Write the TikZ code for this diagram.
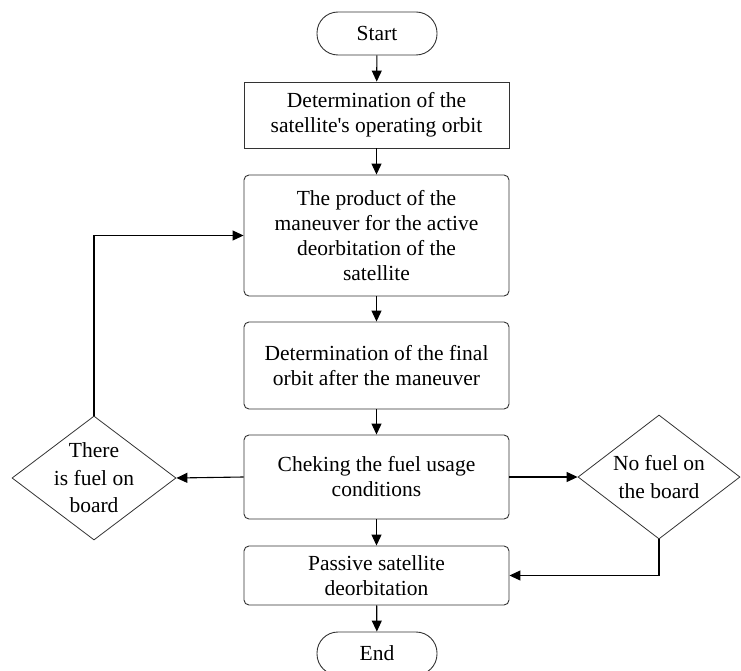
\documentclass[tikz,border=0pt]{standalone}
\usepackage{fontspec}
\setmainfont{Liberation Serif}
\usetikzlibrary{shapes.geometric, arrows.meta}
\tikzset{
  txt/.style={font=\fontsize{21.5}{25}\selectfont, align=center, inner sep=0pt},
  blk/.style={txt, draw=black!80, line width=0.9pt, minimum width=265pt},
  rblk/.style={blk, rounded corners=5pt},
  term/.style={txt, draw=black!80, line width=0.9pt, minimum width=120pt,
    minimum height=43pt, rounded corners=21pt},
  cond/.style={diamond, draw=black!80, line width=0.8pt, inner sep=0pt},
  flow/.style={draw, line width=1.1pt, -{Triangle[length=11pt,width=10pt]}}
}
\begin{document}
\begin{tikzpicture}[x=1pt, y=-1pt]
  %tikz  deorbitation flowchart
    \useasboundingbox (0,0) rectangle (741,671);
    \node[term] (start) at (377,33.5) {Start};
    \node[blk, minimum height=66pt] (orbit) at (376.5,115)
      {Determination of the\\satellite\textquotesingle s operating orbit};
    \node[rblk, minimum height=121pt] (maneuver) at (376.5,235.5)
      {The product of the\\maneuver for the active\\deorbitation of the\\satellite};
    \node[rblk, minimum height=87pt] (final) at (376.5,365.5)
      {Determination of the final\\orbit after the maneuver};
    \node[rblk, minimum height=84pt] (check) at (376.5,477)
      {Cheking the fuel usage\\conditions};
    \node[rblk, minimum height=59pt] (passive) at (376.5,575.5)
      {Passive satellite\\deorbitation};
    \node[term] (end) at (377,653.5) {End};
    \node[cond, minimum width=164pt, minimum height=124pt,
      label={[txt, font=\fontsize{21.5}{27.5}\selectfont]center:There\\is fuel on\\board}]
      (fuel) at (94,478) {};
    \node[cond, minimum width=162pt, minimum height=124pt,
      label={[txt, font=\fontsize{21.5}{27.5}\selectfont]center:No fuel on\\the board}]
      (nofuel) at (659,477) {};
    \draw[flow] (start) -- (orbit);
    \draw[flow] (orbit) -- (maneuver);
    \draw[flow] (maneuver) -- (final);
    \draw[flow] (final) -- (check);
    \draw[flow] (check) -- (passive);
    \draw[flow] (passive) -- (end);
    \draw[flow] (check.west) -- (fuel.east);
    \draw[flow] (check.east) -- (nofuel.west);
    \draw[flow] (fuel.north) |- (maneuver.west);
    \draw[flow] (nofuel.south) |- (passive.east);
  \end{tikzpicture}
\end{document}
